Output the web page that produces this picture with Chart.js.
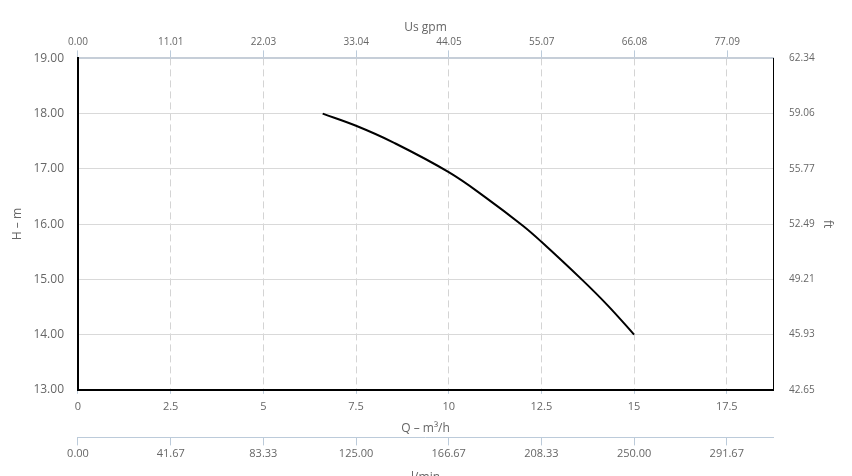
<!DOCTYPE html>
<html>
<head>
<meta charset="utf-8">
<script src="https://cdn.jsdelivr.net/npm/chart.js@4/dist/chart.umd.min.js"></script>
<style>
  html, body { margin: 0; padding: 0; background: #fff; overflow: hidden; }
  #wrap { width: 852px; height: 485px; }
</style>
</head>
<body>
<div id="wrap"><canvas id="pump" width="852" height="485"></canvas></div>
<script>
// pump curve — H (m) against Q (m³/h), with gpm / l/min / ft side scales

const flowQ = [6.6, 7.5, 8.5, 10, 11, 12, 12.5, 13.6, 14.3, 15];
const headH = [18.0, 17.78, 17.48, 16.94, 16.48, 15.97, 15.68, 14.99, 14.52, 14.0];

const flowTicks = [0, 2.5, 5, 7.5, 10, 12.5, 15, 17.5];
const gpmTicks = [0, 11.01, 22.03, 33.04, 44.05, 55.07, 66.08, 77.09];
const lpmTicks = [0, 41.67, 83.33, 125.0, 166.67, 208.33, 250.0, 291.67];
const ftTicks = [42.65, 45.93, 49.21, 52.49, 55.77, 59.06, 62.34];

const TEXT = '#666';
const FONT = "'Open Sans', sans-serif";
const PALE = '#bccbda';

const setTicks = (list) => (scale) => {
  scale.ticks = list.map(v => ({ value: v }));
};
const fix2 = (v) => Number(v).toFixed(2);

new Chart(document.getElementById('pump'), {
  type: 'line',
  data: {
    datasets: [{
      data: flowQ.map((q, i) => ({ x: q, y: headH[i] })),
      borderColor: '#000',
      borderWidth: 2,
      pointRadius: 0,
      tension: 0.4,
      fill: false,
    }],
  },
  options: {
    responsive: false,
    animation: false,
    layout: { padding: { left: 0, right: 4, top: 20, bottom: 0 } },
    plugins: { legend: { display: false }, tooltip: { enabled: false } },
    scales: {
      x: {
        type: 'linear', position: 'bottom', weight: 0,
        min: 0, max: 18.75,
        afterBuildTicks: setTicks(flowTicks),
        ticks: { color: TEXT, font: { family: FONT, size: 11 }, padding: 6 },
        grid: { color: '#d4d4d4', tickColor: PALE, tickLength: 4 },
        border: { color: '#000', width: 2, dash: [7, 4] },
        title: { display: true, text: 'Q – m³/h', color: TEXT, font: { family: FONT, size: 12 }, padding: { top: 2, bottom: 2 } },
      },
      xl: {
        type: 'linear', position: 'bottom', weight: 1,
        min: 0, max: 312.5,
        afterBuildTicks: setTicks(lpmTicks),
        ticks: { callback: fix2, color: TEXT, font: { family: FONT, size: 11 }, padding: 2 },
        grid: { drawOnChartArea: false, tickColor: PALE, tickLength: 8 },
        border: { color: PALE, width: 1 },
        title: { display: true, text: 'l/min', color: TEXT, font: { family: FONT, size: 12 }, padding: { top: 8, bottom: 0 } },
      },
      xg: {
        type: 'linear', position: 'top',
        min: 0, max: 82.55,
        afterBuildTicks: setTicks(gpmTicks),
        ticks: { callback: fix2, color: TEXT, font: { family: FONT, size: 10 }, padding: 2 },
        grid: { drawOnChartArea: false, tickColor: PALE, tickLength: 8 },
        border: { color: '#c6ced8', width: 2 },
        title: { display: true, text: 'Us gpm', color: TEXT, font: { family: FONT, size: 12 }, padding: { top: 0, bottom: 0 } },
      },
      y: {
        type: 'linear', position: 'left',
        min: 13, max: 19,
        ticks: { stepSize: 1, callback: fix2, color: TEXT, font: { family: FONT, size: 12 }, padding: 14 },
        grid: { color: '#d9d9d9', drawTicks: false },
        border: { color: '#000', width: 2 },
        title: { display: true, text: 'H – m', color: TEXT, font: { family: FONT, size: 12 }, padding: { top: 10, bottom: -5 } },
      },
      yf: {
        type: 'linear', position: 'right',
        min: 42.65, max: 62.34,
        afterBuildTicks: setTicks(ftTicks),
        ticks: { callback: fix2, color: TEXT, font: { family: FONT, size: 10 }, padding: 16 },
        grid: { drawOnChartArea: false, drawTicks: false },
        border: { color: '#000', width: 1 },
        title: { display: true, text: 'ft', color: TEXT, font: { family: FONT, size: 12 }, padding: { top: 13, bottom: -10 } },
      },
    },
  },
});
</script>
</body>
</html>
